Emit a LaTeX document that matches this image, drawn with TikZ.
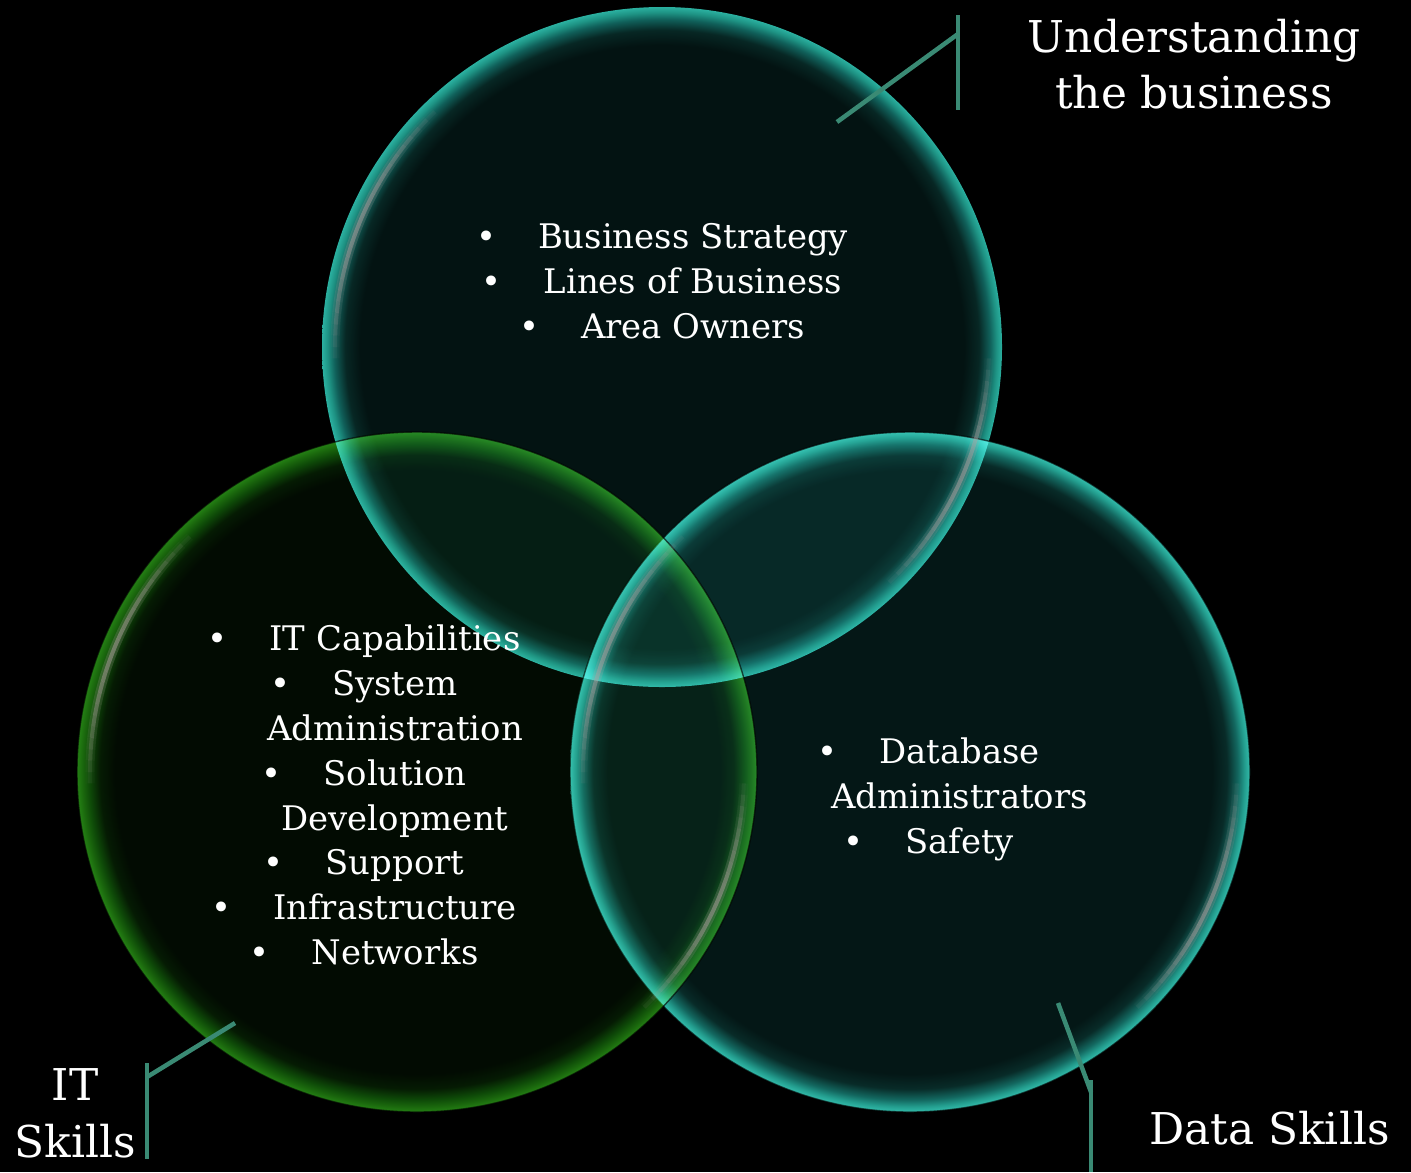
\documentclass[tikz,border=0pt]{standalone}
\usepackage{fontspec}
\setmainfont{DejaVu Serif}

% circle palettes: dark interior, two glow steps, soft band, bright rim
\definecolor{topDark}{HTML}{031312}
\definecolor{topGlowA}{HTML}{072724}
\definecolor{topGlowB}{HTML}{10605A}
\definecolor{topSoft}{HTML}{1E9384}
\definecolor{topRim}{HTML}{2BB0A0}
\definecolor{rgtDark}{HTML}{041716}
\definecolor{rgtGlowA}{HTML}{082B28}
\definecolor{rgtGlowB}{HTML}{136860}
\definecolor{rgtSoft}{HTML}{239D8E}
\definecolor{rgtRim}{HTML}{33BDAC}
\definecolor{lftDark}{HTML}{020B02}
\definecolor{lftGlowA}{HTML}{051B03}
\definecolor{lftGlowB}{HTML}{0E4A08}
\definecolor{lftSoft}{HTML}{1A670D}
\definecolor{lftRim}{HTML}{248014}
\definecolor{leader}{HTML}{3A8A74}
\definecolor{sheen}{HTML}{B0A0A0}

% the rim of the shaded disc sits at 25bp
\pgfdeclareradialshading{topglow}{\pgfpoint{0bp}{0bp}}{%
  color(0bp)=(topDark); color(22.2bp)=(topDark); color(23.3bp)=(topGlowA);
  color(24.1bp)=(topGlowB); color(24.6bp)=(topSoft); color(25bp)=(topRim); color(50bp)=(topRim)}
\pgfdeclareradialshading{rgtglow}{\pgfpoint{0bp}{0bp}}{%
  color(0bp)=(rgtDark); color(22.2bp)=(rgtDark); color(23.3bp)=(rgtGlowA);
  color(24.1bp)=(rgtGlowB); color(24.6bp)=(rgtSoft); color(25bp)=(rgtRim); color(50bp)=(rgtRim)}
\pgfdeclareradialshading{lftglow}{\pgfpoint{0bp}{0bp}}{%
  color(0bp)=(lftDark); color(22.2bp)=(lftDark); color(23.3bp)=(lftGlowA);
  color(24.1bp)=(lftGlowB); color(24.6bp)=(lftSoft); color(25bp)=(lftRim); color(50bp)=(lftRim)}

\newcommand\vennbullet{\llap{\makebox[0pt]{•}\hspace{52bp}}}

\tikzset{
  body/.style={text=white, font=\fontsize{34}{40}\selectfont, anchor=base, inner sep=0pt},
  heading/.style={text=white, font=\fontsize{44}{52}\selectfont, anchor=base, inner sep=0pt},
  leaderline/.style={draw=leader, line width=4.5bp},
  rimline/.style={draw=black, line width=1.4bp, draw opacity=0.65},
}

\begin{document}
\begin{tikzpicture}[x=1bp, y=-1bp]
  % canvas
  \fill[black] (0,0) rectangle (1411,1172);
  \useasboundingbox (0,0) rectangle (1411,1172);

  \coordinate (topC) at (662,347);
  \coordinate (leftC) at (417,772);
  \coordinate (rightC) at (910,772);

  % glowing discs, screened over one another
  \shade[shading=topglow, blend mode=screen] (topC) circle[radius=340bp];
  \shade[shading=rgtglow, blend mode=screen] (rightC) circle[radius=340bp];
  \draw[rimline] (rightC) circle[radius=340bp];
  \shade[shading=lftglow, blend mode=screen] (leftC) circle[radius=340bp];
  \draw[rimline] (leftC) circle[radius=340bp];

  % soft sheen inside the rims (upper left and lower right)
  \foreach \c in {topC,rightC,leftC}{
    \foreach \a in {132,134,...,180}{
      \pgfmathsetmacro\op{0.5*sin((\a-132)/50*180)}
      \draw[sheen, line width=9bp, draw opacity=0.45*\op] (\c) ++(\a:327bp) arc[start angle=\a, end angle=\a+2, radius=327bp];
      \draw[sheen, line width=4bp, draw opacity=\op] (\c) ++(\a:327bp) arc[start angle=\a, end angle=\a+2, radius=327bp];
    }
    \foreach \a in {-48,-46,...,-4}{
      \pgfmathsetmacro\op{0.5*sin((\a+48)/46*180)}
      \draw[sheen, line width=9bp, draw opacity=0.45*\op] (\c) ++(\a:327bp) arc[start angle=\a, end angle=\a+2, radius=327bp];
      \draw[sheen, line width=4bp, draw opacity=\op] (\c) ++(\a:327bp) arc[start angle=\a, end angle=\a+2, radius=327bp];
    }
  }

  % business circle
  \node[body] (bs) at (693,248) {\vennbullet Business Strategy};
  \node[body] (lb) at (693,293) {\vennbullet Lines of Business};
  \node[body] (ao) at (693,338) {\vennbullet Area Owners};

  % IT circle
  \node[body] (itc) at (395,650) {\vennbullet IT Capabilities};
  \node[body] (sys) at (395,695) {\vennbullet System};
  \node[body] (adm) at (395,740) {Administration};
  \node[body] (sol) at (395,785) {\vennbullet Solution};
  \node[body] (dev) at (395,830) {Development};
  \node[body] (sup) at (395,874) {\vennbullet Support};
  \node[body] (inf) at (395,919) {\vennbullet Infrastructure};
  \node[body] (net) at (395,964) {\vennbullet Networks};

  % data circle
  \node[body] (db) at (959.5,763) {\vennbullet Database};
  \node[body] (dba) at (959.5,808) {Administrators};
  \node[body] (saf) at (959.5,853) {\vennbullet Safety};

  % titles
  \node[heading] (ub1) at (1194,52) {Understanding};
  \node[heading] (ub2) at (1194,108) {the business};
  \node[heading] (it1) at (75,1100) {IT};
  \node[heading] (it2) at (75,1157) {Skills};
  \node[heading] (ds) at (1269.5,1144) {Data Skills};

  % leader lines
  \coordinate (ubTop) at (958,15);
  \coordinate (ubBot) at (958,110);
  \coordinate (ubJoin) at (958,34);
  \coordinate (ubTip) at (837,122);
  \draw[leaderline] (ubTop) -- (ubBot);
  \draw[leaderline] (ubJoin) -- (ubTip);

  \coordinate (itTop) at (147,1063);
  \coordinate (itBot) at (147,1159);
  \coordinate (itJoin) at (147,1077);
  \coordinate (itTip) at (235,1023);
  \draw[leaderline] (itTop) -- (itBot);
  \draw[leaderline] (itJoin) -- (itTip);

  \coordinate (dsTip) at (1058,1003);
  \coordinate (dsJoin) at (1091,1092);
  \coordinate (dsTop) at (1091,1080);
  \coordinate (dsBot) at (1091,1172);
  \draw[leaderline] (dsTip) -- (dsJoin);
  \draw[leaderline] (dsTop) -- (dsBot);
\end{tikzpicture}
\end{document}
